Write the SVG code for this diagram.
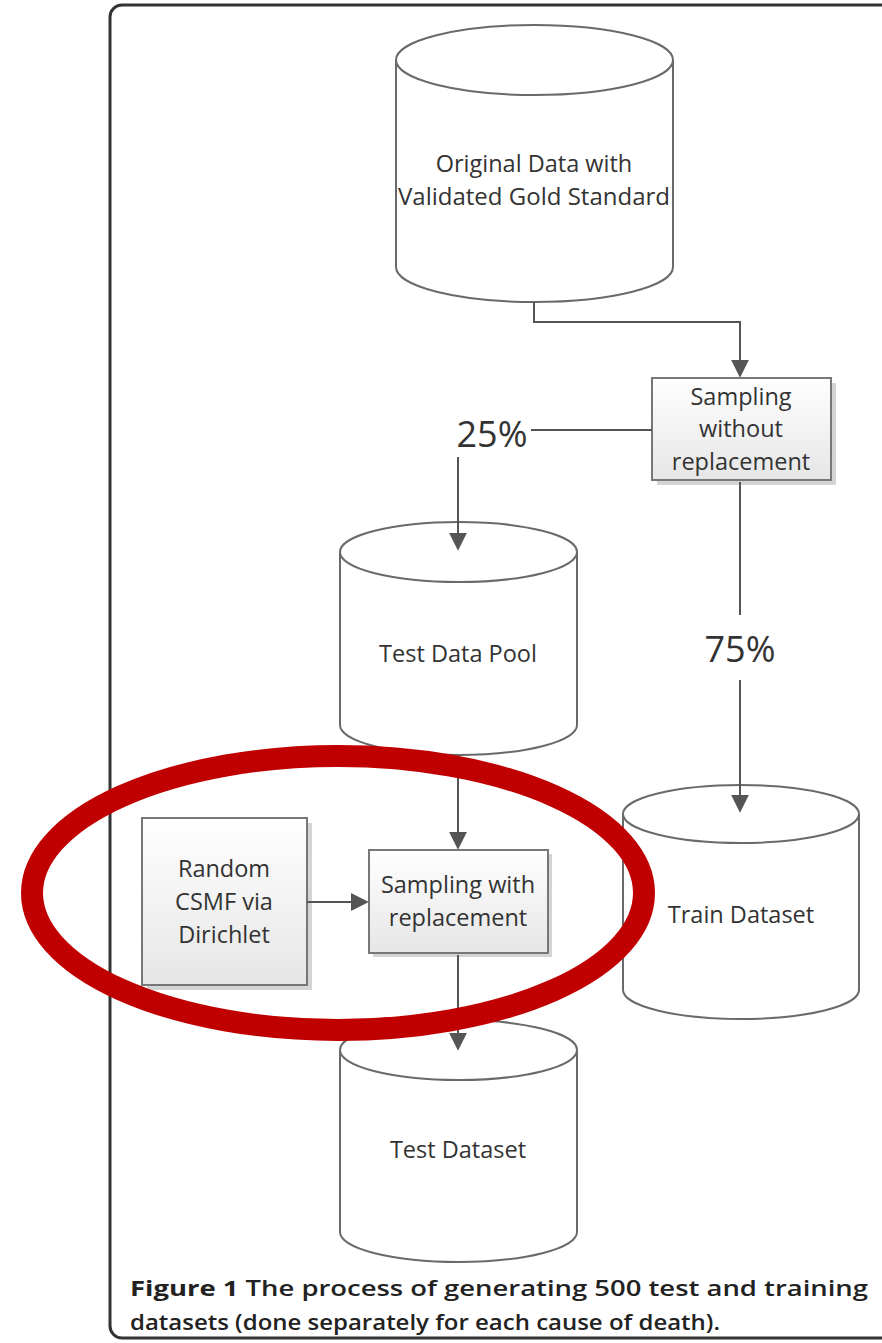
<svg xmlns="http://www.w3.org/2000/svg" width="882" height="1343" viewBox="0 0 882 1343">
<defs>
<linearGradient id="bg" x1="0" y1="0" x2="0" y2="1">
<stop offset="0" stop-color="#ffffff"/><stop offset="1" stop-color="#e6e6e6"/>
</linearGradient>
<marker id="ah2" viewBox="0 0 10 10" refX="9" refY="5" markerWidth="18" markerHeight="18" markerUnits="userSpaceOnUse" orient="auto">
<path d="M0,0 L10,5 L0,10 z" fill="#555"/>
</marker>
</defs>
<style>
.cyl{fill:#fff;stroke:#6a6a6a;stroke-width:2}
.box{fill:url(#bg);stroke:#777;stroke-width:2}
.sh{fill:#d4d4d4}
.t{font-family:"Open Sans","Liberation Sans",sans-serif;font-size:23.5px;fill:#333;text-anchor:middle}
.pct{font-family:"Open Sans","Liberation Sans",sans-serif;font-size:36px;fill:#333;text-anchor:middle}
.ln{fill:none;stroke:#555;stroke-width:2}
.cap{font-family:"Open Sans","Liberation Sans",sans-serif;font-size:22px;fill:#222;font-weight:600}
.b{font-weight:bold}
</style>
<rect width="882" height="1343" fill="#fff"/>
<rect x="110" y="5" width="800" height="1333" rx="12" fill="none" stroke="#333" stroke-width="3"/>

<g id="original-data">
<path class="cyl" d="M396,60 V267 A138.5,35 0 0 0 673,267 V60"/>
<ellipse class="cyl" cx="534.5" cy="60" rx="138.5" ry="35"/>
<text class="t" x="534" y="172">Original Data with</text>
<text class="t" x="534" y="205" textLength="272" lengthAdjust="spacingAndGlyphs">Validated Gold Standard</text>
</g>

<g id="sampling-without">
<rect class="sh" x="657" y="383" width="179" height="102"/>
<rect class="box" x="652" y="378" width="179" height="102"/>
<text class="t" x="741" y="405">Sampling</text>
<text class="t" x="741" y="437">without</text>
<text class="t" x="741" y="470">replacement</text>
</g>

<g id="label-25">
<text class="pct" x="492" y="447">25%</text>
</g>
<g id="label-75">
<text class="pct" x="740" y="662">75%</text>
</g>

<g id="test-data-pool">
<path class="cyl" d="M340,552 V725 A118.5,30 0 0 0 577,725 V552"/>
<ellipse class="cyl" cx="458.5" cy="552" rx="118.5" ry="30"/>
<text class="t" x="458" y="662">Test Data Pool</text>
</g>

<g id="train-dataset">
<path class="cyl" d="M623,814 V990 A118,29 0 0 0 859,990 V814"/>
<ellipse class="cyl" cx="741" cy="814" rx="118" ry="29"/>
<text class="t" x="741" y="923">Train Dataset</text>
</g>

<g id="random-csmf">
<rect class="sh" x="147" y="823" width="165" height="167"/>
<rect class="box" x="142" y="818" width="165" height="167"/>
<text class="t" x="224" y="877">Random</text>
<text class="t" x="224" y="910">CSMF via</text>
<text class="t" x="224" y="943">Dirichlet</text>
</g>

<g id="sampling-with">
<rect class="sh" x="373" y="854" width="179" height="103"/>
<rect class="box" x="369" y="850" width="179" height="103"/>
<text class="t" x="458" y="893">Sampling with</text>
<text class="t" x="458" y="926">replacement</text>
</g>

<g id="test-dataset">
<path class="cyl" d="M340,1050 V1232 A118.5,30 0 0 0 577,1232 V1050"/>
<ellipse class="cyl" cx="458.5" cy="1050" rx="118.5" ry="30"/>
<text class="t" x="458" y="1158">Test Dataset</text>
</g>

<g id="connectors">
<path class="ln" d="M534,302 V322 H740 V376" marker-end="url(#ah2)"/>
<path class="ln" d="M652,430 H531"/>
<path class="ln" d="M458,457 V549" marker-end="url(#ah2)"/>
<path class="ln" d="M740,482 V615"/>
<path class="ln" d="M740,680 V811" marker-end="url(#ah2)"/>
<path class="ln" d="M458,755 V848" marker-end="url(#ah2)"/>
<path class="ln" d="M307,902 H367" marker-end="url(#ah2)"/>
<path class="ln" d="M458,955 V1049" marker-end="url(#ah2)"/>
</g>

<g id="highlight">
<ellipse cx="338" cy="893" rx="306" ry="137" fill="none" stroke="#c00000" stroke-width="22"/>
</g>

<g id="caption">
<text class="cap" x="130" y="1296" textLength="738" lengthAdjust="spacingAndGlyphs"><tspan class="b">Figure 1</tspan> The process of generating 500 test and training</text>
<text class="cap" x="130" y="1330" textLength="590" lengthAdjust="spacingAndGlyphs">datasets (done separately for each cause of death).</text>
</g>
</svg>
